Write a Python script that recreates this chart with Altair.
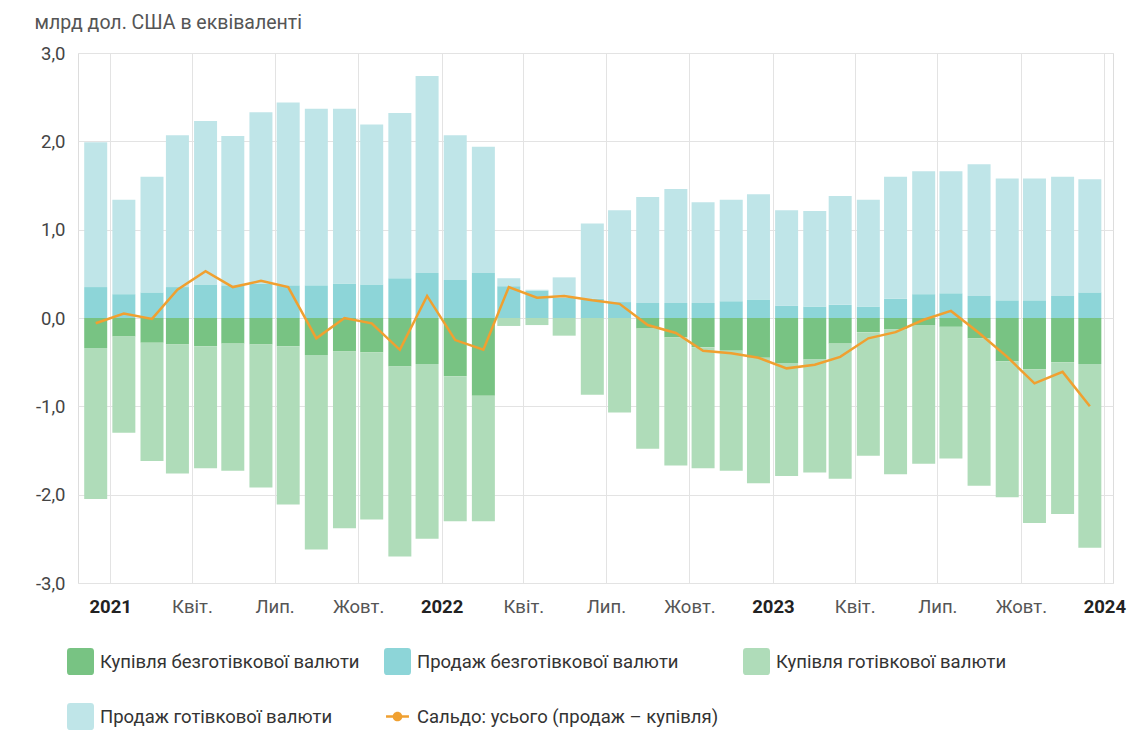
import altair as alt
import pandas as pd

# Months Dec 2020 .. Dec 2023 (37 bars)
months = [f"{2020 + (11 + i) // 12}-{(11 + i) % 12 + 1:02d}-16" for i in range(37)]

cashless_buy = [-0.34, -0.21, -0.28, -0.30, -0.32, -0.29, -0.30, -0.32, -0.42, -0.38, -0.39, -0.55,
                -0.52, -0.66, -0.88, 0.00, 0.00, 0.00, 0.00, 0.00, -0.12, -0.22, -0.33, -0.37,
                -0.45, -0.51, -0.47, -0.29, -0.16, -0.13, -0.08, -0.10, -0.23, -0.49, -0.58, -0.50,
                -0.52]
cashless_sell = [0.35, 0.27, 0.29, 0.35, 0.38, 0.37, 0.39, 0.37, 0.37, 0.39, 0.38, 0.45,
                 0.51, 0.43, 0.51, 0.36, 0.31, 0.23, 0.22, 0.18, 0.17, 0.17, 0.17, 0.19,
                 0.21, 0.14, 0.13, 0.15, 0.13, 0.22, 0.27, 0.28, 0.25, 0.20, 0.20, 0.25,
                 0.29]
cash_buy = [-1.71, -1.09, -1.34, -1.46, -1.38, -1.44, -1.62, -1.79, -2.20, -2.00, -1.89, -2.15,
            -1.98, -1.64, -1.42, -0.09, -0.08, -0.20, -0.87, -1.07, -1.36, -1.45, -1.37, -1.36,
            -1.42, -1.28, -1.28, -1.53, -1.40, -1.64, -1.57, -1.49, -1.67, -1.54, -1.74, -1.72,
            -2.08]
cash_sell = [1.64, 1.07, 1.31, 1.72, 1.85, 1.69, 1.94, 2.07, 2.00, 1.98, 1.81, 1.87,
             2.23, 1.64, 1.43, 0.09, 0.01, 0.23, 0.85, 1.04, 1.20, 1.29, 1.14, 1.15,
             1.19, 1.08, 1.08, 1.23, 1.21, 1.38, 1.39, 1.38, 1.49, 1.38, 1.38, 1.35,
             1.28]
saldo = [-0.06, 0.05, -0.01, 0.32, 0.53, 0.35, 0.42, 0.35, -0.23, 0.00, -0.06, -0.36,
         0.25, -0.25, -0.36, 0.35, 0.23, 0.25, 0.20, 0.16, -0.08, -0.17, -0.37, -0.40,
         -0.45, -0.57, -0.53, -0.44, -0.23, -0.16, -0.02, 0.08, -0.17, -0.44, -0.74, -0.61,
         -1.00]

series_names = [
    "Купівля безготівкової валюти",
    "Продаж безготівкової валюти",
    "Купівля готівкової валюти",
    "Продаж готівкової валюти",
    "Сальдо: усього (продаж – купівля)",
]
colors = ["#78c383", "#8dd5d8", "#afdcb9", "#bfe5e8", "#f0a030"]

rows = []
for k, arr in enumerate([cashless_buy, cashless_sell, cash_buy, cash_sell]):
    for d, v in zip(months, arr):
        rows.append({"date": d, "value": v, "series": series_names[k], "ord": k})
bars_df = pd.DataFrame(rows)
line_df = pd.DataFrame({"date": months, "value": saldo})
legend_df = pd.DataFrame({"item": series_names, "date": [months[18]] * 5, "value": [0.0] * 5})

rsq = "M-1,-0.75Q-1,-1 -0.75,-1L0.75,-1Q1,-1 1,-0.75L1,0.75Q1,1 0.75,1L-0.75,1Q-1,1 -1,0.75Z"
line_sym = ("M-0.85,-0.09L0.85,-0.09L0.85,0.09L-0.85,0.09Z "
            "M-0.36,0A0.36,0.36 0 1,1 0.36,0A0.36,0.36 0 1,1 -0.36,0Z")

FONT = "Roboto"

x_scale = alt.Scale(type="utc", domain=[
    alt.DateTime(year=2020, month=12, date=2, utc=True),
    alt.DateTime(year=2024, month=1, date=5, utc=True)])
tick_vals = [alt.DateTime(year=y, month=m, date=1, utc=True)
             for y in (2021, 2022, 2023) for m in (1, 4, 7, 10)] + \
            [alt.DateTime(year=2024, month=1, date=1, utc=True)]

x_axis = alt.Axis(
    values=tick_vals,
    labelExpr="utcmonth(datum.value) == 0 ? utcFormat(datum.value, '%Y') : "
              "(utcmonth(datum.value) == 3 ? 'Квіт.' : (utcmonth(datum.value) == 6 ? 'Лип.' : 'Жовт.'))",
    labelFontWeight={"condition": {"test": "utcmonth(datum.value) == 0", "value": "bold"}, "value": "normal"},
    labelColor={"condition": {"test": "utcmonth(datum.value) == 0", "value": "#222"}, "value": "#555"},
    labelFontSize=18.5, labelFont=FONT, labelPadding=14, labelFlush=False,
    grid=True, gridColor="#e3e3e3", ticks=False, domain=False, title=None,
)
y_axis = alt.Axis(
    values=[-3, -2, -1, 0, 1, 2, 3],
    labelExpr="(datum.value < 0 ? '-' : '') + replace(format(abs(datum.value), '.1f'), '.', ',')",
    labelFontSize=18.5, labelFont=FONT, labelColor="#444", labelPadding=13,
    grid=True, gridColor="#e3e3e3", ticks=False, domain=False,
    title="млрд дол. США в еквіваленті", titleAngle=0, titleAlign="left", titleBaseline="alphabetic",
    titleX=-44, titleY=-25, titleFont=FONT, titleFontSize=19.5, titleFontWeight="normal", titleColor="#555",
)
y_scale = alt.Scale(domain=[-3, 3], nice=False)

bars = alt.Chart(bars_df).mark_bar(width=23).encode(
    x=alt.X("date:T", scale=x_scale, axis=x_axis),
    y=alt.Y("value:Q", stack="zero", scale=y_scale, axis=y_axis),
    color=alt.Color("series:N", scale=alt.Scale(domain=series_names[:4], range=colors[:4]), legend=None),
    order=alt.Order("ord:Q"),
)

line = alt.Chart(line_df).mark_line(color="#f0a030", strokeWidth=2.5).encode(
    x=alt.X("date:T", scale=x_scale),
    y=alt.Y("value:Q", scale=y_scale),
)

leg = alt.Legend(
    title=None, orient="none", legendX=-11, legendY=595, columns=3, direction="horizontal",
    symbolSize=729, symbolOpacity=1, symbolStrokeWidth=0,
    labelFont=FONT, labelFontSize=18.5, labelColor="#333", labelOffset=6, labelLimit=600,
    columnPadding=24, rowPadding=28, padding=0)

legend_pts = alt.Chart(legend_df).mark_point(filled=True, opacity=0).encode(
    x=alt.X("date:T", scale=x_scale),
    y=alt.Y("value:Q", scale=y_scale),
    fill=alt.Fill("item:N", scale=alt.Scale(domain=series_names, range=colors), legend=leg),
    shape=alt.Shape("item:N", scale=alt.Scale(domain=series_names,
                                              range=[rsq, rsq, rsq, rsq, line_sym]), legend=leg),
)

chart = alt.layer(bars, line, legend_pts).resolve_scale(
    color="independent", fill="independent", shape="independent"
).properties(
    width=1035, height=530,
    autosize=alt.AutoSizeParams(type="none"),
    padding={"left": 78, "top": 53, "right": 30, "bottom": 171},
).configure_view(stroke=None).configure(background="white")

chart.save("out.html", embed_options={"renderer": "svg", "actions": False})
